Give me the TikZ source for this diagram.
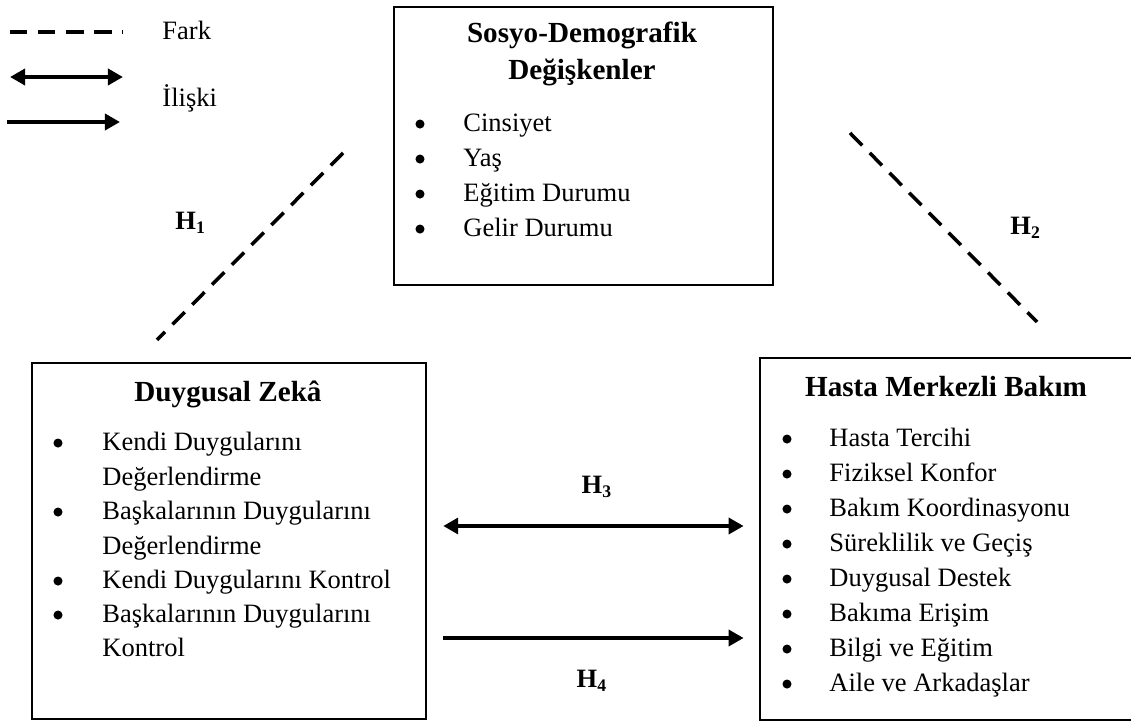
\documentclass[tikz,border=0pt]{standalone}
\usepackage{fontspec}
\setmainfont{Liberation Serif}
\usetikzlibrary{arrows.meta,fit}

\tikzset{
  kutu/.style={draw, line width=1.2pt, inner sep=0pt},
  baslik/.style={font=\fontsize{13.2}{16}\selectfont\bfseries, anchor=base, inner sep=0pt},
  madde/.style={font=\fontsize{12}{15}\selectfont, anchor=base west, inner sep=0pt},
  nokta/.style={circle, fill, inner sep=0pt, minimum size=4.1pt, yshift=3.6pt},
  hip/.style={font=\fontsize{12}{15}\selectfont\bfseries, inner sep=0pt},
  fark/.style={line width=1.6pt, dash pattern=on 7.9pt off 4.8pt},
  iliski/.style={line width=1.7pt, >={Triangle[length=6.8pt,width=7.2pt]}},
}

\begin{document}
\begin{tikzpicture}[x=0.4528pt, y=-0.4528pt]
    \useasboundingbox (0,0) rectangle (1131,722);

    % lejant
    \coordinate (fa) at (10,32);
    \coordinate (fb) at (123,32);
    \coordinate (ia) at (10,77);
    \coordinate (ib) at (123,77);
    \coordinate (ja) at (7,122);
    \coordinate (jb) at (120,122);
    \draw[fark] (fa) -- (fb);
    \draw[iliski, <->] (ia) -- (ib);
    \draw[iliski, ->] (ja) -- (jb);
    \node[madde] (lfark) at (162,40) {Fark};
    \node[madde] (liliski) at (162,107) {İlişki};

    % kutular
    \node[kutu, fit={(394,7) (773,285)}] (sdd) {};
    \node[kutu, fit={(32,363) (426,719)}] (dz) {};
    \node[kutu, fit={(760,358) (1134,720)}] (hmb) {};

    % sosyo-demografik
    \node[baslik] (sddb1) at (582,43) {Sosyo-Demografik};
    \node[baslik] (sddb2) at (582,80) {Değişkenler};
    \node[nokta] (sddn1) at (420,132) {};
    \node[nokta] (sddn2) at (420,167) {};
    \node[nokta] (sddn3) at (420,202) {};
    \node[nokta] (sddn4) at (420,237) {};
    \node[madde] (sddm1) at (463,132) {Cinsiyet};
    \node[madde] (sddm2) at (463,167) {Yaş};
    \node[madde] (sddm3) at (463,202) {Eğitim Durumu};
    \node[madde] (sddm4) at (463,237) {Gelir Durumu};

    % duygusal zeka
    \node[baslik] (dzb) at (228,402) {Duygusal Zekâ};
    \node[nokta] (dzn1) at (58,451) {};
    \node[nokta] (dzn2) at (58,520) {};
    \node[nokta] (dzn3) at (58,589) {};
    \node[nokta] (dzn4) at (58,623) {};
    \node[madde] (dzm1) at (102,451) {Kendi Duygularını};
    \node[madde] (dzm1b) at (102,486) {Değerlendirme};
    \node[madde] (dzm2) at (102,520) {Başkalarının Duygularını};
    \node[madde] (dzm2b) at (102,555) {Değerlendirme};
    \node[madde] (dzm3) at (102,589) {Kendi Duygularını Kontrol};
    \node[madde] (dzm4) at (102,623) {Başkalarının Duygularını};
    \node[madde] (dzm4b) at (102,657) {Kontrol};

    % hasta merkezli bakim
    \node[baslik] (hmbb) at (946,397) {Hasta Merkezli Bakım};
    \node[nokta] (hmbn1) at (787,447) {};
    \node[nokta] (hmbn2) at (787,482) {};
    \node[nokta] (hmbn3) at (787,517) {};
    \node[nokta] (hmbn4) at (787,552) {};
    \node[nokta] (hmbn5) at (787,587) {};
    \node[nokta] (hmbn6) at (787,622) {};
    \node[nokta] (hmbn7) at (787,657) {};
    \node[nokta] (hmbn8) at (787,692) {};
    \node[madde] (hmbm1) at (829,447) {Hasta Tercihi};
    \node[madde] (hmbm2) at (829,482) {Fiziksel Konfor};
    \node[madde] (hmbm3) at (829,517) {Bakım Koordinasyonu};
    \node[madde] (hmbm4) at (829,552) {Süreklilik ve Geçiş};
    \node[madde] (hmbm5) at (829,587) {Duygusal Destek};
    \node[madde] (hmbm6) at (829,622) {Bakıma Erişim};
    \node[madde] (hmbm7) at (829,657) {Bilgi ve Eğitim};
    \node[madde] (hmbm8) at (829,692) {Aile ve Arkadaşlar};

    % hipotezler
    \coordinate (h1a) at (343,153);
    \coordinate (h1b) at (157,340);
    \coordinate (h2a) at (850,133);
    \coordinate (h2b) at (1037,322);
    \draw[fark] (h1a) -- (h1b);
    \draw[fark] (h2a) -- (h2b);
    \draw[iliski, <->, shorten <=7.2pt, shorten >=6.8pt] (dz.east |- 0,526) -- (hmb.west |- 0,526);
    \draw[iliski, ->, shorten <=7.2pt, shorten >=6.8pt] (dz.east |- 0,638) -- (hmb.west |- 0,638);
    \node[hip, anchor=base west] (h1) at (175,230) {H\textsubscript{1}};
    \node[hip, anchor=base west] (h2) at (1010,235) {H\textsubscript{2}};
    \node[hip, anchor=base] (h3) at (597,494) {H\textsubscript{3}};
    \node[hip, anchor=base] (h4) at (592,688) {H\textsubscript{4}};
\end{tikzpicture}
\end{document}
